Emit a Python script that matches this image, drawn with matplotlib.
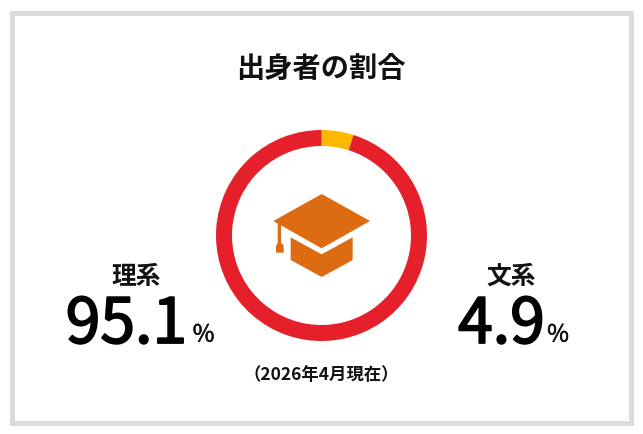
import matplotlib
matplotlib.use('Agg')
import matplotlib.pyplot as plt
import matplotlib.patheffects as pe
from matplotlib.patches import Polygon, Rectangle

plt.rcParams['font.family'] = ['Noto Sans CJK JP', 'DejaVu Sans']

# данные
categories = ['文系', '理系']
shares = [4.9, 95.1]
share_labels = ['4.9', '95.1']
title = '出身者の割合'
note = '（2026年4月現在）'
ring_colors = ['#FDB900', '#E5202A']
icon_color = '#DC6B12'

fig = plt.figure(figsize=(6.43, 4.34), dpi=100)
ax = fig.add_axes([0, 0, 1, 1])

# кольцо (ось y перевёрнута, поэтому counterclock=True идёт по часовой)
ax.pie(shares, colors=ring_colors, startangle=-90, counterclock=True, center=(321.5, 235.5),
       radius=105.5, wedgeprops={'width': 16, 'linewidth': 0}, frame=True)
ax.set_xlim(0, 643)
ax.set_ylim(434, 0)
ax.set_aspect('auto')
ax.axis('off')

# рамка
ax.add_patch(Rectangle((11.5, 12.5), 619.5, 410, fill=False, ec='#DCDCDC', lw=3.6))

# шапка
def px(points):
    return [(200 + x / 3, 120 + y / 3) for x, y in points]

cap = [(365, 222), (510, 303), (365, 385), (220, 303)]
base = [(272, 352), (365, 403), (458, 352), (458, 420), (365, 471), (272, 420)]
cord = [(233, 308), (243, 312), (243, 372), (233, 372)]
tassel = [(233, 370), (246, 370), (251, 377), (251, 398), (228, 398), (228, 377)]
for shape in [cap, base, cord, tassel]:
    ax.add_patch(Polygon(px(shape), closed=True, fc=icon_color, ec='none'))

# в шрифте нет начертания medium, утолщаем обводкой
medium = [pe.withStroke(linewidth=1.3, foreground='#000000')]
thin = [pe.withStroke(linewidth=0.4, foreground='#111111')]

# подписи
ax.text(320.5, 68.5, title, ha='center', va='center', fontsize=20.3, fontweight='bold', color='#111111')
ax.text(136, 276.5, categories[1], ha='center', va='center', fontsize=17.8, fontweight='bold', color='#111111')
ax.text(511, 276.5, categories[0], ha='center', va='center', fontsize=17.8, fontweight='bold', color='#111111')
ax.text(126.5, 325, share_labels[1], ha='center', va='center', fontsize=45, color='#000000', path_effects=medium)
ax.text(203.5, 335, '%', ha='center', va='center', fontsize=17, color='#111111', path_effects=thin)
ax.text(501.5, 325, share_labels[0], ha='center', va='center', fontsize=45, color='#000000', path_effects=medium)
ax.text(558, 335, '%', ha='center', va='center', fontsize=17, color='#111111', path_effects=thin)
ax.text(321, 375, note, ha='center', va='center', fontsize=12.5, fontweight='bold', color='#111111')

fig.savefig('out.png', dpi=100)
